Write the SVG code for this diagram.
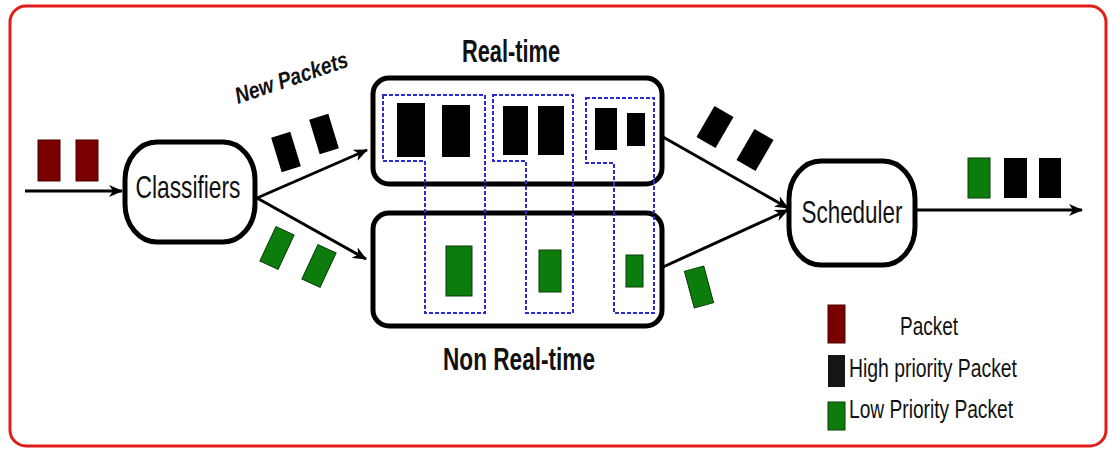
<svg xmlns="http://www.w3.org/2000/svg" width="1109" height="456" viewBox="0 0 1109 456">
<style>
.t{font-family:"Liberation Sans",Arial,sans-serif;fill:#111}
.b{font-weight:bold}
.box{fill:#fff;stroke:#000;stroke-width:5}
.q{fill:none;stroke:#000;stroke-width:3}
.dash{fill:none;stroke:#2a2ad0;stroke-width:2;stroke-dasharray:4 2}
.red{fill:#7a0000;stroke:#4a0000;stroke-width:1}
.blk{fill:#000}
.grn{fill:#0c7d0c;stroke:#063d06;stroke-width:1}
</style>
<defs>
<marker id="ah" viewBox="0 0 14 12" refX="13" refY="6" markerWidth="14" markerHeight="12" markerUnits="userSpaceOnUse" orient="auto">
<path d="M0,0 L14,6 L0,12 L4,6 Z" fill="#000"/>
</marker>
</defs>
<rect x="0" y="0" width="1109" height="456" fill="#fff"/>
<rect id="frame" x="10" y="6" width="1096" height="440" rx="16" fill="#fff" stroke="#e21b1b" stroke-width="3"/>

<g id="connectors">
<line x1="25" y1="191" x2="122" y2="191" class="q" marker-end="url(#ah)"/>
<line x1="257" y1="198" x2="367" y2="150" class="q" marker-end="url(#ah)"/>
<line x1="257" y1="198" x2="366" y2="259" class="q" marker-end="url(#ah)"/>
<line x1="663" y1="137" x2="788" y2="208" class="q" marker-end="url(#ah)"/>
<line x1="663" y1="267" x2="788" y2="210" class="q" marker-end="url(#ah)"/>
<line x1="916" y1="210" x2="1082" y2="210" class="q" marker-end="url(#ah)"/>
</g>

<g id="input-packets">
<rect x="38" y="140" width="22" height="41" class="red"/>
<rect x="76" y="140" width="22" height="41" class="red"/>
</g>

<g id="classifiers">
<rect x="125" y="142" width="130" height="100" rx="32" ry="38" class="box"/>
<text x="188" y="198" text-anchor="middle" class="t" font-size="32" textLength="105" lengthAdjust="spacingAndGlyphs">Classifiers</text>
</g>

<g id="new-packets">
<text class="t b" font-size="23" font-style="italic" transform="translate(238,104) rotate(-18.7)" textLength="118" lengthAdjust="spacingAndGlyphs">New Packets</text>
<rect x="-10" y="-18" width="20" height="36" class="blk" transform="translate(286,152) rotate(-17)"/>
<rect x="-10" y="-18" width="20" height="36" class="blk" transform="translate(324,134) rotate(-17)"/>
<rect x="-10" y="-19" width="20" height="38" class="grn" transform="translate(277,248) rotate(25)"/>
<rect x="-10" y="-19" width="20" height="38" class="grn" transform="translate(319,266) rotate(25)"/>
</g>

<g id="real-time">
<rect x="373" y="78" width="289" height="106" rx="16" class="box"/>
<text x="511" y="62" text-anchor="middle" class="t b" font-size="32" textLength="98" lengthAdjust="spacingAndGlyphs">Real-time</text>
<rect x="397" y="103" width="28" height="54" class="blk"/>
<rect x="442" y="105" width="28" height="52" class="blk"/>
<rect x="503" y="106" width="25" height="49" class="blk"/>
<rect x="538" y="106" width="26" height="49" class="blk"/>
<rect x="595" y="108" width="22" height="42" class="blk"/>
<rect x="627" y="113" width="18" height="33" class="blk"/>
</g>

<g id="non-real-time">
<rect x="373" y="213" width="289" height="113" rx="16" class="box"/>
<text x="519" y="370" text-anchor="middle" class="t b" font-size="32" textLength="152" lengthAdjust="spacingAndGlyphs">Non Real-time</text>
<rect x="446" y="246" width="26" height="50" class="grn"/>
<rect x="539" y="250" width="22" height="42" class="grn"/>
<rect x="626" y="255" width="17" height="32" class="grn"/>
</g>

<g id="groups">
<path d="M383,95 H485 V313 H425 V161 H383 Z" class="dash"/>
<path d="M493,95 H573 V313 H526 V161 H493 Z" class="dash"/>
<path d="M586,98 H654 V313 H614 V163 H586 Z" class="dash"/>
</g>

<g id="to-scheduler-packets">
<rect x="-11" y="-18" width="22" height="36" class="blk" transform="translate(715,127) rotate(30)"/>
<rect x="-11" y="-18" width="22" height="36" class="blk" transform="translate(755,150) rotate(30)"/>
<rect x="-10" y="-19" width="20" height="38" class="grn" transform="translate(699,287) rotate(-15)"/>
</g>

<g id="scheduler">
<rect x="789" y="161" width="126" height="104" rx="32" ry="38" class="box"/>
<text x="852" y="223" text-anchor="middle" class="t" font-size="32" textLength="101" lengthAdjust="spacingAndGlyphs">Scheduler</text>
</g>

<g id="output-packets">
<rect x="968" y="158" width="22" height="40" class="grn"/>
<rect x="1004" y="158" width="23" height="40" class="blk"/>
<rect x="1039" y="158" width="22" height="40" class="blk"/>
</g>

<g id="legend">
<rect x="828" y="305" width="17" height="38" class="red"/>
<rect x="828" y="355" width="17" height="32" fill="#151515"/>
<rect x="828" y="402" width="17" height="28" class="grn"/>
<text x="929" y="335" text-anchor="middle" class="t" font-size="25" textLength="58" lengthAdjust="spacingAndGlyphs">Packet</text>
<text x="849" y="377" class="t" font-size="25" textLength="168" lengthAdjust="spacingAndGlyphs">High priority Packet</text>
<text x="849" y="418" class="t" font-size="25" textLength="164" lengthAdjust="spacingAndGlyphs">Low Priority Packet</text>
</g>
</svg>
